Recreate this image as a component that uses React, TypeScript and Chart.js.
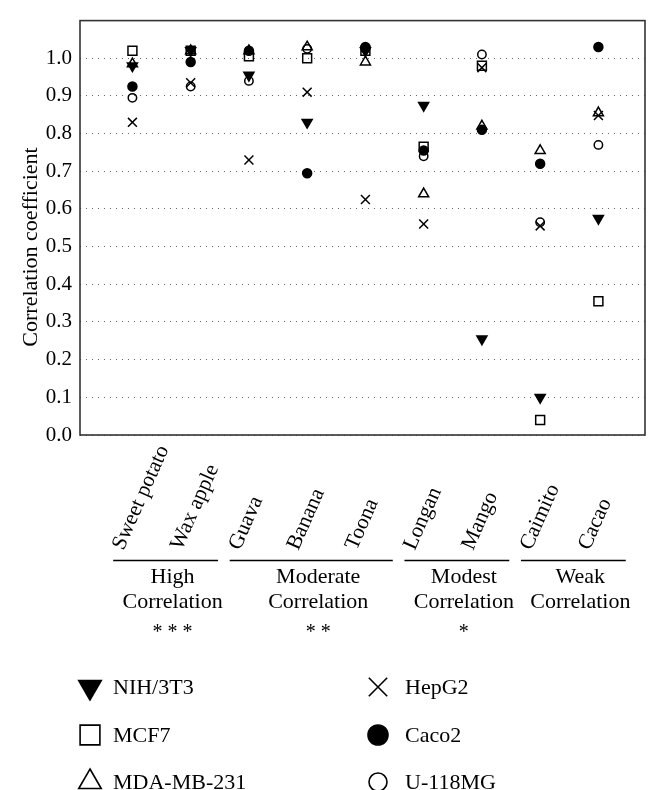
import React, { useEffect, useRef } from 'react';
import { Chart, registerables } from 'chart.js';
import { drawPoint } from 'chart.js/helpers';

Chart.register(...registerables);

const categories = ['Sweet potato', 'Wax apple', 'Guava', 'Banana', 'Toona', 'Longan', 'Mango', 'Caimito', 'Cacao'];

const nih3t3 = [0.98, 1.02, 0.955, 0.83, 1.02, 0.875, 0.255, 0.1, 0.575];
const mcf7 = [1.02, 1.02, 1.005, 1.0, 1.02, 0.765, 0.98, 0.04, 0.355];
const mdaMb231 = [0.985, 1.02, 1.02, 1.03, 0.99, 0.64, 0.82, 0.755, 0.855];
const hepg2 = [0.83, 0.935, 0.73, 0.91, 0.625, 0.56, 0.975, 0.555, 0.848];
const caco2 = [0.925, 0.99, 1.02, 0.695, 1.03, 0.755, 0.81, 0.72, 1.03];
const u118mg = [0.895, 0.925, 0.94, 1.025, 1.025, 0.74, 1.01, 0.565, 0.77];

const groupLine1 = ['High', 'Moderate', 'Modest', 'Weak'];
const groupLine2 = ['Correlation', 'Correlation', 'Correlation', 'Correlation'];
const groupStars = ['***', '**', '*', ''];
const groupFirst = [0, 2, 5, 7];
const groupLast = [1, 4, 6, 8];

const yTitle = 'Correlation coefficient';

const FONT = '"Liberation Serif", "Times New Roman", serif';

type Series = { label: string; data: number[]; style: string; rotation: number; filled: boolean; r: number; lr: number };

const series: Series[] = [
  { label: 'NIH/3T3', data: nih3t3, style: 'triangle', rotation: 180, filled: true, r: 5.8, lr: 13 },
  { label: 'MCF7', data: mcf7, style: 'rect', rotation: 0, filled: false, r: 6.3, lr: 14 },
  { label: 'MDA-MB-231', data: mdaMb231, style: 'triangle', rotation: 0, filled: false, r: 5.8, lr: 13 },
  { label: 'HepG2', data: hepg2, style: 'crossRot', rotation: 0, filled: false, r: 6.3, lr: 13 },
  { label: 'Caco2', data: caco2, style: 'circle', rotation: 0, filled: true, r: 4.5, lr: 10 },
  { label: 'U-118MG', data: u118mg, style: 'circle', rotation: 0, filled: false, r: 4.2, lr: 9 },
];

const legendCol1 = ['NIH/3T3', 'MCF7', 'MDA-MB-231'];
const legendCol2 = ['HepG2', 'Caco2', 'U-118MG'];

const overlay = {
  id: 'overlay',
  afterDraw(chart: any) {
    const { ctx, chartArea: a } = chart;
    const xs = chart.scales.x;
    ctx.save();
    // frame
    ctx.strokeStyle = '#333';
    ctx.lineWidth = 1.6;
    ctx.strokeRect(a.left, a.top, a.right - a.left, a.bottom - a.top);

    ctx.fillStyle = '#000';
    // y title
    ctx.save();
    ctx.font = `22px ${FONT}`;
    ctx.translate(31, 247);
    ctx.rotate(-Math.PI / 2);
    ctx.textAlign = 'center';
    ctx.textBaseline = 'middle';
    ctx.fillText(yTitle, 0, 0);
    ctx.restore();

    // category labels
    ctx.font = `21.5px ${FONT}`;
    categories.forEach((c, i) => {
      const px = xs.getPixelForValue(i + 1);
      ctx.save();
      ctx.translate(px - 9, 551);
      ctx.rotate((-66 * Math.PI) / 180);
      ctx.textAlign = 'left';
      ctx.textBaseline = 'alphabetic';
      ctx.fillText(c, 0, 0);
      ctx.restore();
    });

    // groups
    groupLine1.forEach((g, k) => {
      const s = xs.getPixelForValue(groupFirst[k] + 1 - 0.33);
      const e = xs.getPixelForValue(groupLast[k] + 1 + 0.47);
      ctx.strokeStyle = '#000';
      ctx.lineWidth = 1.5;
      ctx.beginPath();
      ctx.moveTo(s, 560.5);
      ctx.lineTo(e, 560.5);
      ctx.stroke();
      const cx = (s + e) / 2 + 7;
      ctx.font = `22px ${FONT}`;
      ctx.textAlign = 'center';
      ctx.textBaseline = 'alphabetic';
      ctx.fillText(g, cx, 583);
      ctx.fillText(groupLine2[k], cx, 608);
      if (groupStars[k]) {
        ctx.font = `20px ${FONT}`;
        (ctx as any).letterSpacing = '5px';
        ctx.fillText(groupStars[k], cx + 2.5, 638);
        (ctx as any).letterSpacing = '0px';
      }
    });

    // legend
    const rowsY = [687, 735, 782];
    const drawEntry = (name: string, mx: number, tx: number, y: number) => {
      const s = series.find((q) => q.label === name)!;
      ctx.fillStyle = s.filled ? '#000' : 'rgba(0,0,0,0)';
      ctx.strokeStyle = '#000';
      ctx.lineWidth = 1.6;
      drawPoint(ctx, { pointStyle: s.style as any, rotation: s.rotation, radius: s.lr, borderWidth: 1.6 }, mx, y);
      ctx.fillStyle = '#000';
      ctx.font = `22px ${FONT}`;
      ctx.textAlign = 'left';
      ctx.textBaseline = 'middle';
      ctx.fillText(name, tx, y + 1);
    };
    legendCol1.forEach((n, i) => drawEntry(n, 90, 113, rowsY[i]));
    legendCol2.forEach((n, i) => drawEntry(n, 378, 405, rowsY[i]));
    ctx.restore();
  },
};

export default function App() {
  const ref = useRef<HTMLCanvasElement | null>(null);
  useEffect(() => {
    if (!ref.current) return;
    const chart = new Chart(ref.current, {
      type: 'scatter',
      data: {
        datasets: series.map((s) => ({
          label: s.label,
          data: s.data.map((v, i) => ({ x: i + 1, y: v })),
          pointStyle: s.style as any,
          rotation: s.rotation,
          pointRadius: s.r,
          pointHoverRadius: s.r,
          backgroundColor: s.filled ? '#000' : 'rgba(0,0,0,0)',
          borderColor: '#000',
          borderWidth: 1.5,
          showLine: false,
        })),
      },
      options: {
        animation: false,
        responsive: false,
        maintainAspectRatio: false,
        layout: { padding: { left: 0, right: 15, top: 14, bottom: 355 } },
        plugins: { legend: { display: false }, tooltip: { enabled: false } },
        scales: {
          x: { type: 'linear', min: 0.1, max: 9.8, display: false },
          y: {
            min: 0,
            max: 1.1,
            afterFit: (scale: any) => {
              scale.width = 80;
            },
            ticks: {
              stepSize: 0.1,
              padding: 8,
              color: '#000',
              font: { family: FONT, size: 21 },
              callback: (v: any) => (Number(v) > 1.05 ? '' : Number(v).toFixed(1)),
            },
            grid: { color: '#666', lineWidth: 1, drawTicks: false },
            border: { display: false, dash: [1, 5] },
          },
        },
      },
      plugins: [overlay],
    });
    return () => chart.destroy();
  }, []);
  return (
    <div style={{ position: 'fixed', left: 0, top: 0, width: 660, height: 790, background: '#fff' }}>
      <canvas ref={ref} width={660} height={790} style={{ width: 660, height: 790 }} />
    </div>
  );
}
